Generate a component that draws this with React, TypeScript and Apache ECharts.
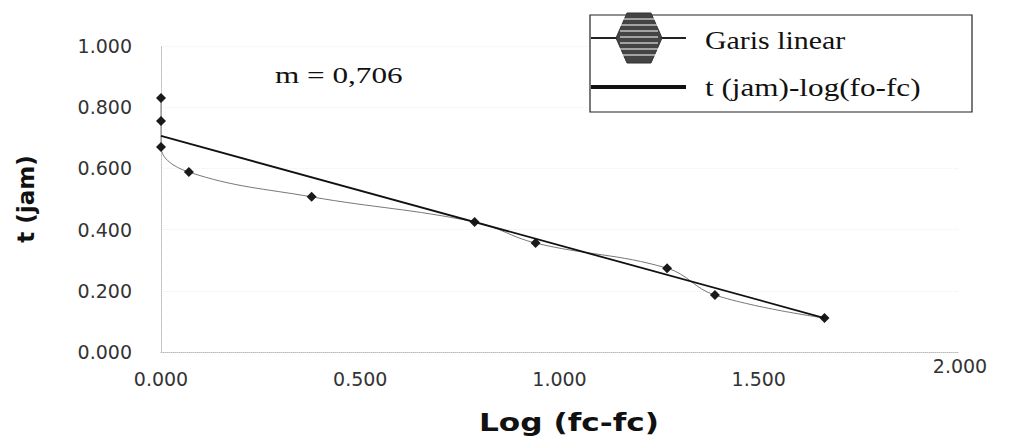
import React, { useEffect, useRef } from "react";
import * as echarts from "echarts";

const logX = [0, 0, 0, 0.07, 0.378, 0.787, 0.94, 1.27, 1.39, 1.665];
const tJam = [0.83, 0.755, 0.67, 0.588, 0.507, 0.425, 0.356, 0.274, 0.186, 0.111];
const fitX = [0, 1.665];
const fitY = [0.706, 0.111];
const legendNames = ["Garis linear", "t (jam)-log(fo-fc)"];
const annotation = "m = 0,706";
const xAxisTitle = "Log (fc-fc)";
const yAxisTitle = "t (jam)";
const raisedXTick = "2.000";

export default function App() {
  const ref = useRef<HTMLDivElement>(null);
  useEffect(() => {
    if (!ref.current) return;
    const chart = echarts.init(ref.current, null, { renderer: "svg" });
    const pts = logX.map((x, i) => [x, tJam[i]]);
    const fit = fitX.map((x, i) => [x, fitY[i]]);
    const hexCx = 639, hexCy = 38;
    const stripes = [19, 25, 31, 37, 43, 49, 55].map((y) => ({
      type: "line",
      shape: { x1: 620, y1: y, x2: 658, y2: y },
      style: { stroke: "#fff", lineWidth: 1.2 },
      z: 12,
    }));
    chart.setOption({
      animation: false,
      backgroundColor: "#fff",
      grid: { left: 161, right: 58, top: 46, bottom: 89, containLabel: false },
      xAxis: {
        type: "value",
        min: 0,
        max: 2,
        interval: 0.5,
        axisLine: { lineStyle: { color: "#bbb", type: "dotted" } },
        axisTick: { show: false },
        splitLine: { show: false },
        axisLabel: {
          fontFamily: "DejaVu Sans",
          fontSize: 19,
          color: "#333",
          margin: 17,
          formatter: (v: number) => (v === 2 ? "" : v.toFixed(3)),
        },
      },
      yAxis: {
        type: "value",
        min: 0,
        max: 1,
        interval: 0.2,
        name: yAxisTitle,
        nameLocation: "middle",
        nameGap: 124,
        nameTextStyle: { fontFamily: "DejaVu Sans", fontWeight: "bold", fontSize: 23, color: "#111" },
        axisLine: { show: true, lineStyle: { color: "#bbb", type: "dotted" } },
        axisTick: { show: false },
        splitLine: { show: true, lineStyle: { color: "#f0f0f0", type: "dotted" } },
        axisLabel: {
          fontFamily: "DejaVu Sans",
          fontSize: 19,
          color: "#333",
          margin: 29,
          formatter: (v: number) => v.toFixed(3),
        },
      },
      series: [
        {
          name: legendNames[0],
          type: "line",
          data: pts,
          smooth: 0.4,
          symbol: "diamond",
          symbolSize: 10,
          itemStyle: { color: "#1a1a1a" },
          lineStyle: { color: "#777", width: 1 },
          z: 3,
        },
        {
          name: legendNames[1],
          type: "line",
          data: fit,
          symbol: "none",
          lineStyle: { color: "#111", width: 1.8 },
          z: 4,
        },
      ],
      graphic: [
        {
          type: "rect",
          shape: { x: 590, y: 15, width: 382, height: 97 },
          style: { fill: "#fff", stroke: "#222", lineWidth: 1.2 },
          z: 10,
        },
        {
          type: "line",
          shape: { x1: 591, y1: 38, x2: 686, y2: 38 },
          style: { stroke: "#222", lineWidth: 2 },
          z: 11,
        },
        {
          type: "polygon",
          shape: {
            points: [
              [hexCx - 12, hexCy - 25],
              [hexCx + 12, hexCy - 25],
              [hexCx + 23, hexCy],
              [hexCx + 12, hexCy + 25],
              [hexCx - 12, hexCy + 25],
              [hexCx - 23, hexCy],
            ],
          },
          style: { fill: "#444", stroke: "#333", lineWidth: 1 },
          z: 11,
        },
        ...stripes,
        {
          type: "line",
          shape: { x1: 591, y1: 87, x2: 686, y2: 87 },
          style: { stroke: "#111", lineWidth: 4 },
          z: 11,
        },
        {
          type: "text",
          x: 705,
          y: 40,
          scaleX: 1.15,
          style: {
            text: legendNames[0],
            font: "26px 'Liberation Serif'",
            fill: "#111",
            verticalAlign: "middle",
          },
          z: 11,
        },
        {
          type: "text",
          x: 705,
          y: 87,
          scaleX: 1.2,
          style: {
            text: legendNames[1],
            font: "26px 'Liberation Serif'",
            fill: "#111",
            verticalAlign: "middle",
          },
          z: 11,
        },
        {
          type: "text",
          x: 275,
          y: 75,
          scaleX: 1.3,
          style: {
            text: annotation,
            font: "24px 'Liberation Serif'",
            fill: "#111",
            verticalAlign: "middle",
          },
          z: 11,
        },
        {
          type: "text",
          x: 569,
          y: 423,
          scaleX: 1.3,
          style: {
            text: xAxisTitle,
            font: "bold 24px 'DejaVu Sans'",
            fill: "#111",
            align: "center",
            verticalAlign: "middle",
          },
          z: 11,
        },
        {
          type: "text",
          x: 960,
          y: 366,
          style: {
            text: raisedXTick,
            font: "19px 'DejaVu Sans'",
            fill: "#333",
            align: "center",
            verticalAlign: "middle",
          },
          z: 11,
        },
      ],
    });
    return () => chart.dispose();
  }, []);
  return <div ref={ref} style={{ width: 1016, height: 441, position: "absolute", left: 0, top: 0 }} />;
}
